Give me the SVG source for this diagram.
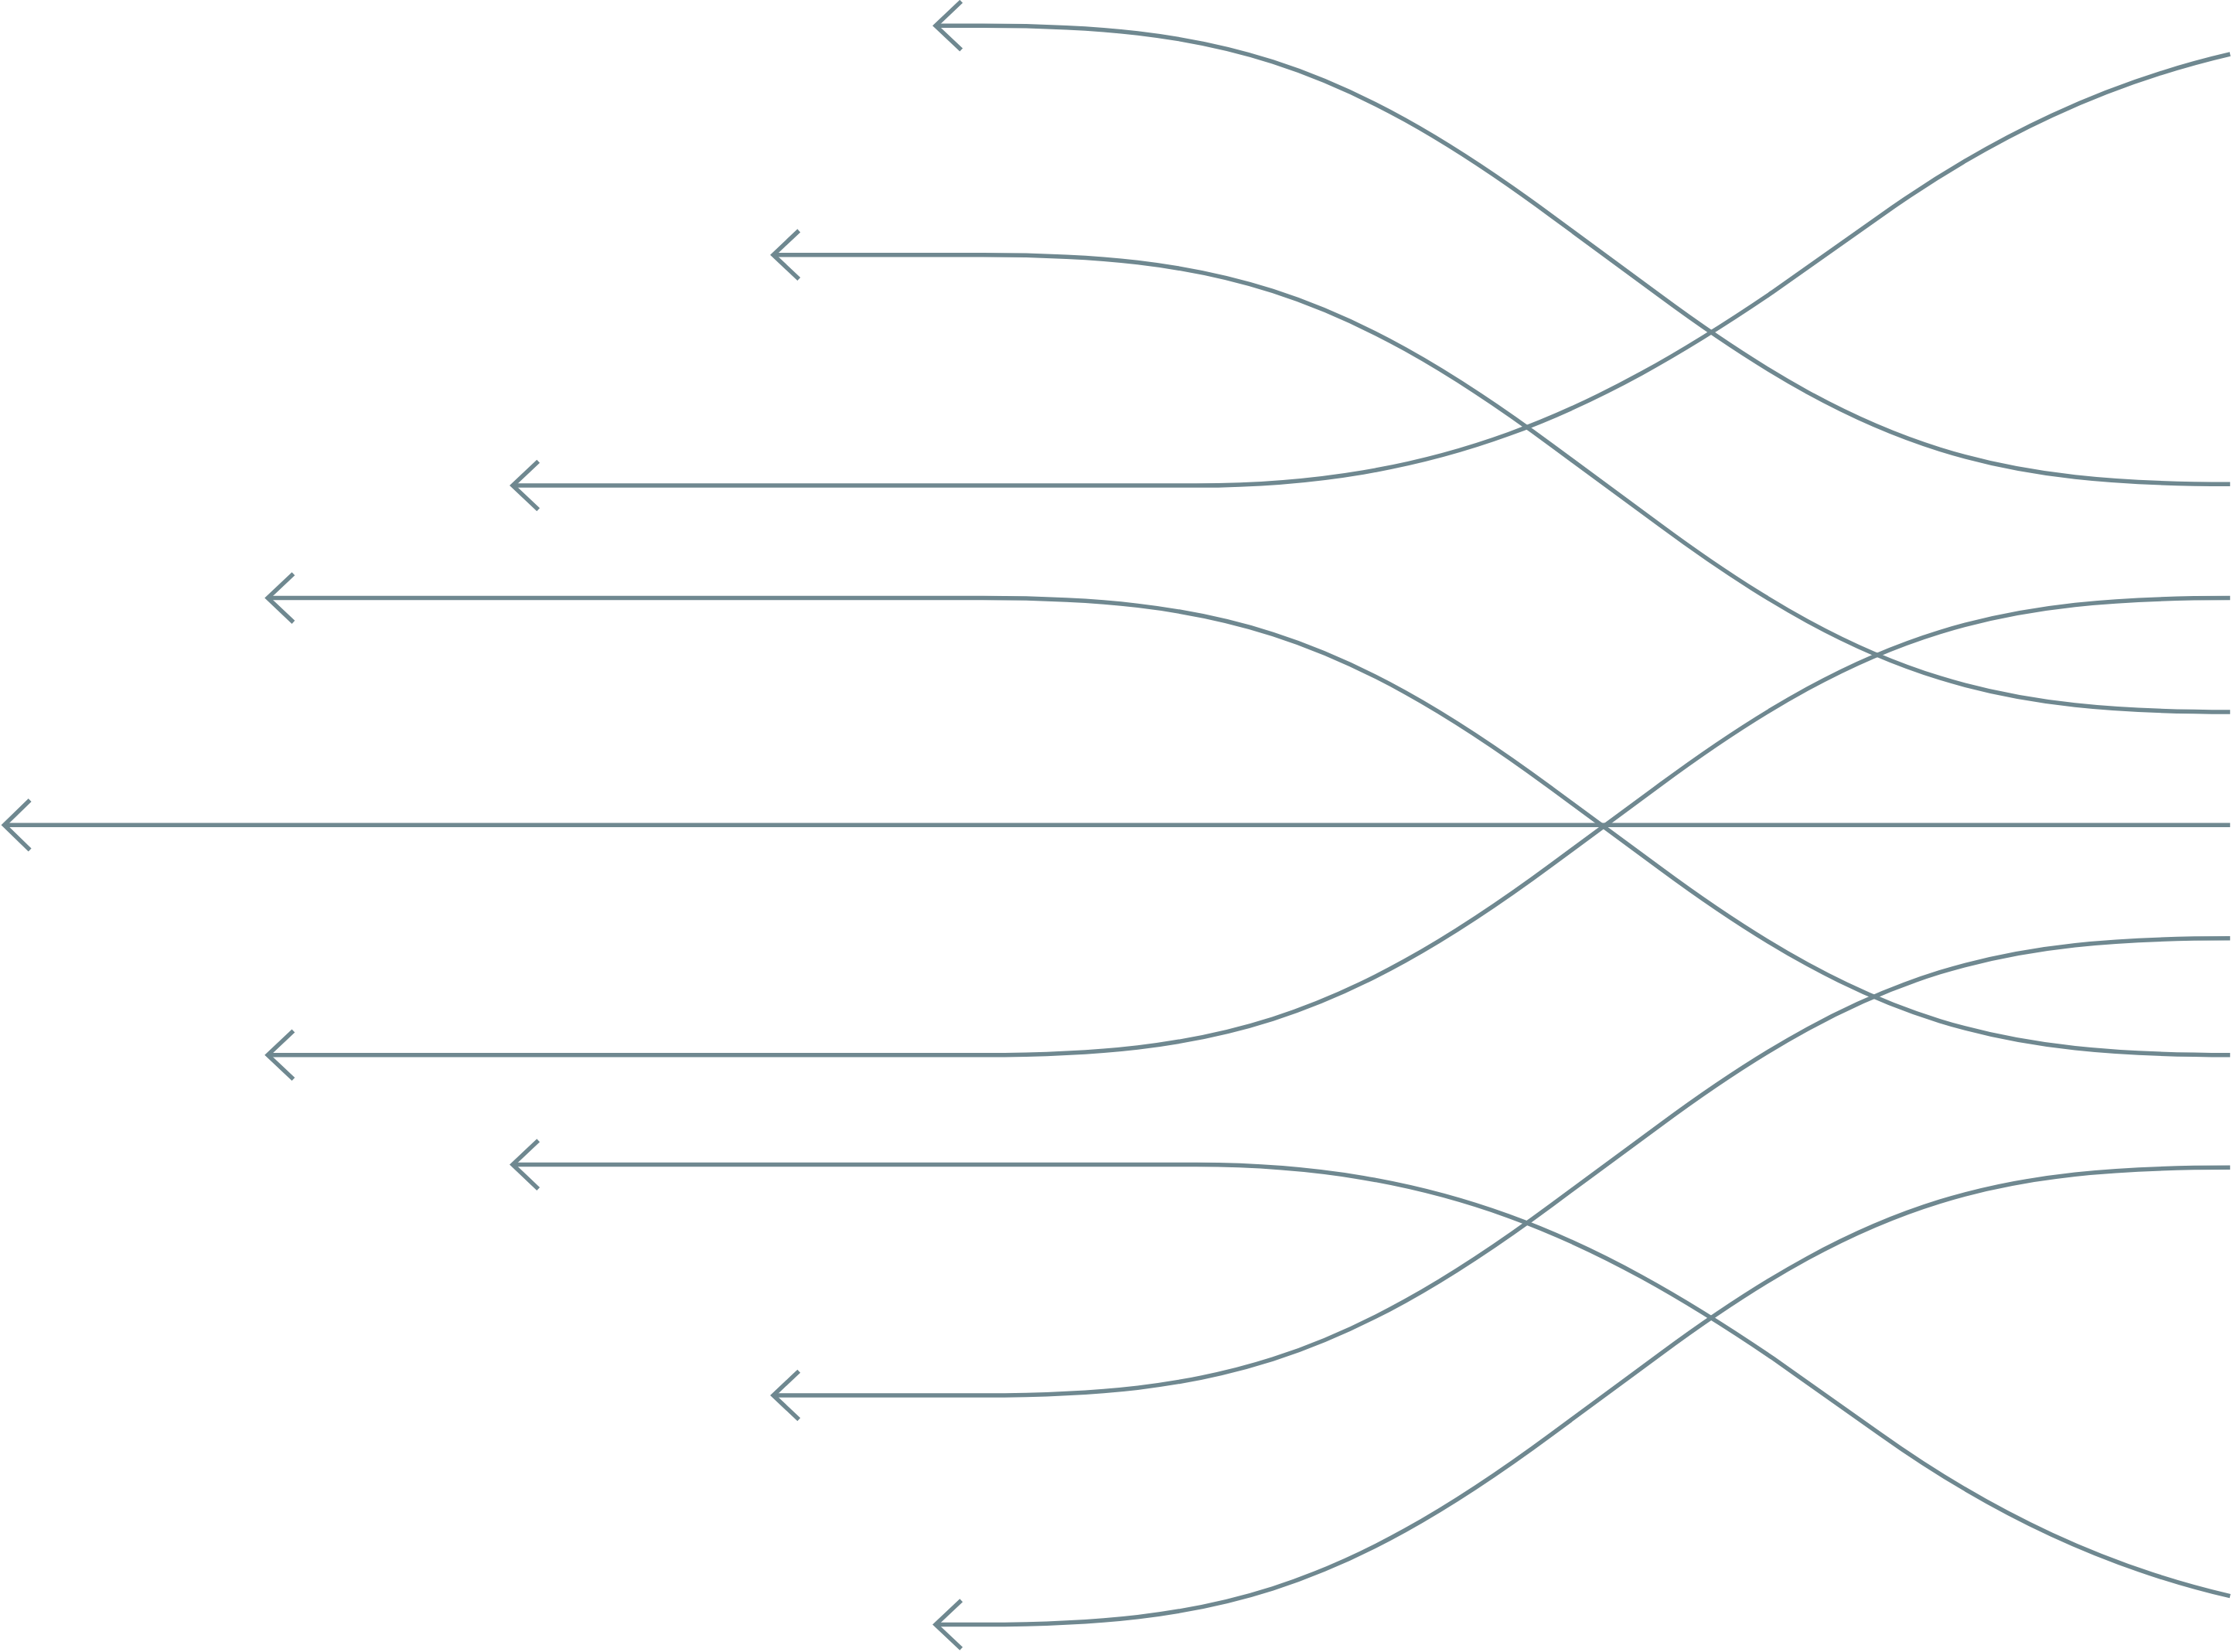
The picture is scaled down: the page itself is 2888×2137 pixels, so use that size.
<svg xmlns="http://www.w3.org/2000/svg" width="2888" height="2137" viewBox="0 0 2888 2137">
<style>
.c{fill:none;stroke:#6f8890;stroke-width:3}
</style>
<rect width="2888" height="2137" fill="#ffffff"/>
<g id="connectors" transform="scale(1.8418)">
<path class="c" d="M657,18 L690,18 C850,18 940,41 1090,152 L1166,208 C1316,319 1406,340 1566,340"/>
<path class="c" d="M675,1 L657,18 L675,35"/>
<path class="c" d="M543,179 L690,179 C850,179 940,202 1090,313 L1166,369 C1316,480 1406,500 1566,500"/>
<path class="c" d="M561,162 L543,179 L561,196"/>
<path class="c" d="M360,341 L840,341 C1010,341 1120,290 1245,205 L1320,152 C1400,95 1480,58 1566,38"/>
<path class="c" d="M378,324 L360,341 L378,358"/>
<path class="c" d="M188,420 L690,420 C850,420 940,443 1090,554 L1166,610 C1316,721 1406,741 1566,741"/>
<path class="c" d="M206,403 L188,420 L206,437"/>
<path class="c" d="M3,579.5 L1566,579.5"/>
<path class="c" d="M21,562 L3,579.5 L21,597"/>
<path class="c" d="M188,741 L690,741 C850,741 940,718 1090,607 L1166,551 C1316,440 1406,420 1566,420"/>
<path class="c" d="M206,724 L188,741 L206,758"/>
<path class="c" d="M360,818 L840,818 C1010,818 1120,869 1245,954 L1320,1007 C1400,1064 1480,1101 1566,1121"/>
<path class="c" d="M378,801 L360,818 L378,835"/>
<path class="c" d="M543,980 L690,980 C850,980 940,957 1090,846 L1166,790 C1316,679 1406,659 1566,659"/>
<path class="c" d="M561,963 L543,980 L561,997"/>
<path class="c" d="M657,1141 L690,1141 C850,1141 940,1118 1090,1007 L1166,951 C1316,840 1406,820 1566,820"/>
<path class="c" d="M675,1124 L657,1141 L675,1158"/>
</g>
</svg>
